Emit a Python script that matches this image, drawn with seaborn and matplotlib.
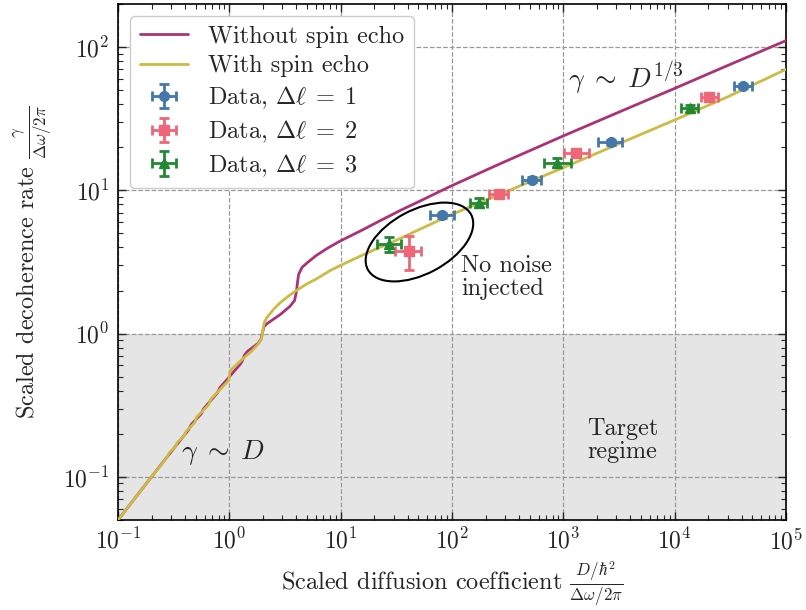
import numpy as np
import pandas as pd
import matplotlib
matplotlib.use("Agg")
import matplotlib.pyplot as plt
import matplotlib.transforms as mtransforms
from matplotlib.patches import Ellipse
import seaborn as sns

# Theory curves (D, gamma)
no_echo_D = [0.1, 0.25, 0.43, 0.455, 0.56, 0.585, 0.78, 0.82, 0.97, 1.0, 1.25, 1.30, 1.37,
             1.45, 1.83, 1.93, 1.98, 2.05, 2.2, 2.87, 3.5, 3.85, 4.0, 4.1, 4.2, 4.5, 5.0,
             6.0, 7.5, 10, 15, 22.7, 35, 52, 75, 100, 200, 300, 1000, 3000, 10000, 30000, 100000]
no_echo_g = [0.05, 0.125, 0.213, 0.232, 0.276, 0.298, 0.385, 0.418, 0.485, 0.50, 0.61, 0.64, 0.71,
             0.75, 0.86, 0.92, 1.01, 1.12, 1.18, 1.36, 1.55, 1.70, 1.95, 2.3, 2.6, 2.9, 3.12,
             3.5, 3.92, 4.45, 5.2, 6.15, 7.3, 8.45, 9.7, 10.8, 13.8, 15.9, 24, 34.6, 51.5, 74.5, 111]

echo_D = [0.1, 0.2, 0.27, 0.29, 0.33, 0.34, 0.39, 0.41, 0.49, 0.51, 0.65, 0.685, 0.96, 0.99,
          1.01, 1.05, 1.3, 1.6, 1.85, 1.95, 2.0, 2.05, 2.15, 2.5, 2.9, 3.5, 4.0, 5.0, 6.0,
          8.0, 10, 20, 30, 50, 100, 200, 500, 1000, 3000, 10000, 30000, 100000]
echo_g = [0.05, 0.1, 0.134, 0.148, 0.163, 0.174, 0.192, 0.208, 0.240, 0.262, 0.318, 0.35, 0.46, 0.475,
          0.54, 0.565, 0.66, 0.76, 0.86, 0.93, 1.05, 1.18, 1.28, 1.48, 1.66, 1.86, 2.0, 2.23, 2.40,
          2.75, 3.0, 3.85, 4.4, 5.3, 6.8, 8.5, 11.5, 14.4, 20.8, 31, 45, 70]

# Data points: centre, x-range, y-range
blue_D = [81.5, 525, 2690, 41200]
blue_g = [6.7, 11.9, 21.6, 53.6]
blue_Dlo = [63, 427, 2040, 34400]
blue_Dhi = [105, 631, 3370, 49700]
blue_glo = [6.4, 11.5, 20.9, 52.0]
blue_ghi = [7.0, 12.3, 22.3, 55.2]

pink_D = [40.8, 263, 1312, 20400]
pink_g = [3.76, 9.5, 18.2, 44.5]
pink_Dlo = [31, 217, 1009, 17100]
pink_Dhi = [53, 319, 1690, 24400]
pink_glo = [2.77, 9.1, 17.5, 43.0]
pink_ghi = [4.8, 9.9, 18.9, 46.0]

green_D = [27, 174, 880, 13680]
green_g = [4.19, 8.2, 15.6, 37.3]
green_Dlo = [21, 144, 676, 11400]
green_Dhi = [35, 206, 1160, 16100]
green_glo = [3.74, 7.6, 14.6, 35.5]
green_ghi = [4.7, 8.8, 16.7, 39.2]

TARGET_MAX = 1.0
FS = 17.5

sns.set_theme(style="ticks")
plt.rcParams.update({
    "font.family": "serif",
    "font.serif": ["cmr10"],
    "mathtext.fontset": "cm",
    "axes.formatter.use_mathtext": True,
    "font.size": FS,
    "axes.unicode_minus": False,
})

fig = plt.figure(figsize=(8.06, 6.1), dpi=100)
ax = fig.add_axes([118 / 806, 90 / 610, 668 / 806, 516 / 610])
ax.set_xscale("log")
ax.set_yscale("log")
ax.set_xlim(1e-1, 1e5)
ax.set_ylim(0.05, 200)

ax.axhspan(0.01, TARGET_MAX, color="#e5e5e5", zorder=0, lw=0)
ax.grid(True, which="major", ls="--", color="#999999", lw=0.9, zorder=1)

curves = pd.concat([
    pd.DataFrame({"D": no_echo_D, "g": no_echo_g, "kind": "Without spin echo"}),
    pd.DataFrame({"D": echo_D, "g": echo_g, "kind": "With spin echo"}),
])
sns.lineplot(data=curves, x="D", y="g", hue="kind", estimator=None, sort=False,
             palette=["#AA3377", "#CCBB44"], lw=2, ax=ax, zorder=3)


def draw_points(D, g, Dlo, Dhi, glo, ghi, color, marker, label):
    D = np.array(D)
    g = np.array(g)
    xerr = [D - np.array(Dlo), np.array(Dhi) - D]
    yerr = [g - np.array(glo), np.array(ghi) - g]
    ax.errorbar(D, g, xerr=xerr, yerr=yerr, fmt=marker, color=color, ms=7,
                elinewidth=2, capsize=3.5, capthick=2, label=label, zorder=4)


draw_points(blue_D, blue_g, blue_Dlo, blue_Dhi, blue_glo, blue_ghi, "#4477AA", "o",
            r"Data, $\Delta\ell\;=\;1$")
draw_points(pink_D, pink_g, pink_Dlo, pink_Dhi, pink_glo, pink_ghi, "#EE6677", "s",
            r"Data, $\Delta\ell\;=\;2$")
draw_points(green_D, green_g, green_Dlo, green_Dhi, green_glo, green_ghi, "#228833", "^",
            r"Data, $\Delta\ell\;=\;3$")

# ellipse around the points taken without injected noise (drawn in pixel space)
trans = mtransforms.Affine2D().scale(fig.dpi / 72) + \
    mtransforms.ScaledTranslation(51, 4.36, ax.transData)
ax.add_patch(Ellipse((0, 0), 117 * 0.72, 64 * 0.72, angle=28, fill=False,
                     ec="black", lw=1.5, transform=trans, zorder=5))

ax.text(121, 2.45, "No noise\ninjected", ha="left", va="center", fontsize=FS, linespacing=1.05)
ax.text(3400, 0.18, "Target\nregime", ha="center", va="center", fontsize=FS, linespacing=1.05)
ax.text(0.87, 0.147, r"$\gamma\;\sim\;D$", ha="center", va="center", fontsize=20)
ax.text(1110, 52, r"$\gamma\;\sim\;D^{1/3}$", ha="left", va="baseline", fontsize=20)

ax.set_xlabel(r"Scaled diffusion coefficient $\frac{D/\hbar^2}{\Delta\omega/2\pi}$",
              fontsize=FS, labelpad=4)
ax.set_ylabel(r"Scaled decoherence rate $\frac{\gamma}{\Delta\omega/2\pi}$",
              fontsize=FS, labelpad=6)

ax.tick_params(which="both", direction="in", top=True, right=True, labelsize=17)
ax.tick_params(which="major", length=6, width=1, pad=6)
ax.tick_params(which="minor", length=3.5, width=0.8)
for s in ax.spines.values():
    s.set_linewidth(1.2)
    s.set_color("black")

handles, labels = ax.get_legend_handles_labels()
ax.legend(handles, labels, loc="upper left", fontsize=FS, frameon=True, fancybox=True,
          edgecolor="#cccccc", framealpha=1, borderaxespad=0.5, handlelength=2.0,
          labelspacing=0.3)

fig.savefig("out.png", dpi=100)
